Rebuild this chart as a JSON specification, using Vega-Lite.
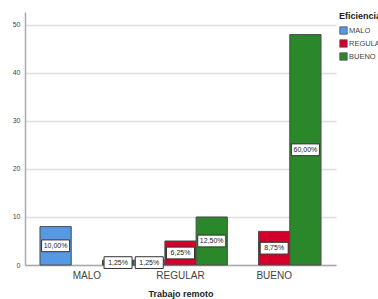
{
  "$schema": "https://vega.github.io/schema/vega-lite/v6.json",
  "width": 311,
  "height": 253,
  "autosize": {"type": "none"},
  "padding": {"left": 25, "top": 12, "right": 42, "bottom": 34},
  "background": "white",
  "config": {
    "font": "Liberation Sans",
    "view": {"stroke": null}
  },
  "data": {
    "values": [
      {"trabajo": "MALO", "eficiencia": "MALO", "n": 8, "pct": "10,00%"},
      {"trabajo": "MALO", "eficiencia": "BUENO", "n": 1, "pct": "1,25%"},
      {"trabajo": "REGULAR", "eficiencia": "MALO", "n": 1, "pct": "1,25%"},
      {"trabajo": "REGULAR", "eficiencia": "REGULAR", "n": 5, "pct": "6,25%"},
      {"trabajo": "REGULAR", "eficiencia": "BUENO", "n": 10, "pct": "12,50%"},
      {"trabajo": "BUENO", "eficiencia": "REGULAR", "n": 7, "pct": "8,75%"},
      {"trabajo": "BUENO", "eficiencia": "BUENO", "n": 48, "pct": "60,00%"}
    ]
  },
  "transform": [{"calculate": "datum.n / 2", "as": "mid"}],
  "encoding": {
    "x": {
      "field": "trabajo",
      "type": "nominal",
      "sort": ["MALO", "REGULAR", "BUENO"],
      "scale": {"paddingInner": 0, "paddingOuter": 0.16},
      "axis": {
        "title": "Trabajo remoto",
        "titleFont": "Liberation Sans",
        "titleFontSize": 9,
        "titleFontWeight": "bold",
        "titleColor": "#222",
        "titlePadding": 9,
        "labelAngle": 0,
        "labelFontSize": 10,
        "labelColor": "#444",
        "labelPadding": 5,
        "ticks": false,
        "domainColor": "#aaaaaa",
        "domainWidth": 1.5
      }
    },
    "xOffset": {
      "field": "eficiencia",
      "type": "nominal",
      "sort": ["MALO", "REGULAR", "BUENO"],
      "scale": {"domain": ["MALO", "REGULAR", "BUENO"], "paddingInner": 0, "paddingOuter": 0}
    }
  },
  "layer": [
    {
      "mark": {"type": "bar", "stroke": "#4a4a4a", "strokeWidth": 1},
      "encoding": {
        "y": {
          "field": "n",
          "type": "quantitative",
          "scale": {"domain": [0, 52.7], "nice": false},
          "axis": {
            "title": null,
            "values": [0, 10, 20, 30, 40, 50],
            "grid": true,
            "gridColor": "#dddddd",
            "gridWidth": 1.5,
            "ticks": false,
            "labelFontSize": 7,
            "labelColor": "#444",
            "labelPadding": 5,
            "domainColor": "#aaaaaa",
            "domainWidth": 1.5
          }
        },
        "color": {
          "field": "eficiencia",
          "type": "nominal",
          "sort": ["MALO", "REGULAR", "BUENO"],
          "scale": {"domain": ["MALO", "REGULAR", "BUENO"], "range": ["#5599e2", "#d4002c", "#2a872a"]},
          "legend": {
            "title": "Eficiencia",
            "orient": "right",
            "offset": 3,
            "titleFontSize": 9,
            "titleFontWeight": "bold",
            "titleColor": "#222",
            "titlePadding": 5,
            "labelFontSize": 7.5,
            "labelColor": "#444",
            "labelOffset": 1,
            "symbolType": "square",
            "symbolSize": 55,
            "symbolStrokeColor": "#555",
            "symbolStrokeWidth": 0.8,
            "rowPadding": 2
          }
        }
      }
    },
    {
      "mark": {"type": "point", "shape": "M-1,-0.42H1V0.42H-1Z", "size": 784, "filled": true, "fill": "white", "stroke": "#333", "strokeWidth": 1, "opacity": 1},
      "encoding": {
        "y": {"field": "mid", "type": "quantitative"}
      }
    },
    {
      "mark": {"type": "text", "fontSize": 7, "color": "#222", "baseline": "middle", "align": "center"},
      "encoding": {
        "y": {"field": "mid", "type": "quantitative"},
        "text": {"field": "pct"}
      }
    }
  ]
}
